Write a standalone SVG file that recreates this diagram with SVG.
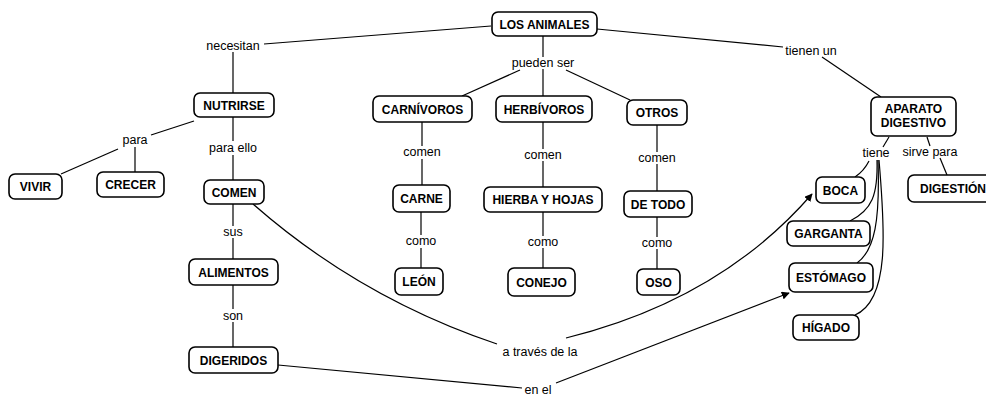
<svg xmlns="http://www.w3.org/2000/svg" width="986" height="397" viewBox="0 0 986 397">
<style>
.n rect{fill:#fff;stroke:#000;stroke-width:1.6}
.n text{font-family:"Liberation Sans",Arial,sans-serif;font-size:12px;font-weight:bold;text-anchor:middle;fill:#000}
.l{font-family:"Liberation Sans",Arial,sans-serif;font-size:12.5px;text-anchor:middle;fill:#000}
#connectors path{fill:none;stroke:#000;stroke-width:1.2}
</style>
<defs>
<marker id="ah" viewBox="0 0 10 10" refX="9" refY="5" markerWidth="8" markerHeight="8" orient="auto" markerUnits="userSpaceOnUse">
<path d="M0,0 L10,5 L0,10 Z" fill="#000"/>
</marker>
</defs>
<rect width="986" height="397" fill="#fff"/>
<g id="connectors">
<path d="M491,26 L264,44"/>
<path d="M233,52 L233,93"/>
<path d="M543,36 L543,57"/>
<path d="M520,70 L462,96"/>
<path d="M543,69 L543,96"/>
<path d="M566,70 L630,100"/>
<path d="M597,29 L783,47"/>
<path d="M822,57 L881,97"/>
<path d="M194,121 L151,135"/>
<path d="M118,149 L61,174"/>
<path d="M135,147 L135,172"/>
<path d="M233,117 L233,141"/>
<path d="M233,155 L233,180"/>
<path d="M233,204 L233,226"/>
<path d="M233,238 L233,259"/>
<path d="M233,285 L233,309"/>
<path d="M233,322 L233,347"/>
<path d="M422,122 L422,146"/>
<path d="M422,159 L422,185"/>
<path d="M421,212 L421,235"/>
<path d="M421,248 L421,268"/>
<path d="M543,122 L543,149"/>
<path d="M543,161 L543,187"/>
<path d="M543,212 L543,236"/>
<path d="M543,248 L543,268"/>
<path d="M657,125 L657,152"/>
<path d="M657,164 L657,191"/>
<path d="M657,217 L657,237"/>
<path d="M657,249 L657,269"/>
<path d="M253,204 Q360,298 497,344"/>
<path d="M566,338 Q720,300 812,194" marker-end="url(#ah)"/>
<path d="M278,365 L522,388"/>
<path d="M556,383 Q680,335 789,293" marker-end="url(#ah)"/>
<path d="M889,137 L883,147"/>
<path d="M927,137 L930,146"/>
<path d="M940,158 L947,175"/>
<path d="M869,161 Q864,171 855,177"/>
<path d="M877,160 C878,195 872,210 850,221"/>
<path d="M878,160 C880,220 875,250 857,263"/>
<path d="M879,160 C885,230 890,300 855,315"/>
</g>
<g id="lbl-necesitan"><text class="l" x="233" y="50">necesitan</text></g>
<g id="lbl-pueden"><text class="l" x="543" y="67">pueden ser</text></g>
<g id="lbl-tienen"><text class="l" x="811" y="55">tienen un</text></g>
<g id="lbl-para"><text class="l" x="135" y="144">para</text></g>
<g id="lbl-paraello"><text class="l" x="233" y="152">para ello</text></g>
<g id="lbl-comen1"><text class="l" x="422" y="156">comen</text></g>
<g id="lbl-comen2"><text class="l" x="543" y="159">comen</text></g>
<g id="lbl-comen3"><text class="l" x="657" y="162">comen</text></g>
<g id="lbl-tiene"><text class="l" x="876" y="157">tiene</text></g>
<g id="lbl-sirve"><text class="l" x="930" y="156">sirve para</text></g>
<g id="lbl-sus"><text class="l" x="233" y="236">sus</text></g>
<g id="lbl-como1"><text class="l" x="421" y="245">como</text></g>
<g id="lbl-como2"><text class="l" x="543" y="246">como</text></g>
<g id="lbl-como3"><text class="l" x="657" y="247">como</text></g>
<g id="lbl-son"><text class="l" x="233" y="320">son</text></g>
<g id="lbl-atraves"><text class="l" x="540" y="356">a través de la</text></g>
<g id="lbl-enel"><text class="l" x="538" y="394">en el</text></g>

<g id="n-animales" class="n"><rect x="492" y="12" width="105" height="24" rx="6"/><text x="544.5" y="28.5">LOS ANIMALES</text></g>
<g id="n-nutrirse" class="n"><rect x="194" y="93" width="80" height="24" rx="6"/><text x="234" y="109.5">NUTRIRSE</text></g>
<g id="n-carnivoros" class="n"><rect x="373" y="96" width="99" height="26" rx="6"/><text x="422.5" y="113.5">CARNÍVOROS</text></g>
<g id="n-herbivoros" class="n"><rect x="496" y="96" width="96" height="26" rx="6"/><text x="544" y="113.5">HERBÍVOROS</text></g>
<g id="n-otros" class="n"><rect x="627" y="100" width="60" height="25" rx="6"/><text x="657" y="117">OTROS</text></g>
<g id="n-aparato" class="n"><rect x="871" y="97" width="85" height="39" rx="6"/><text x="913.5" y="113">APARATO</text><text x="913.5" y="127">DIGESTIVO</text></g>
<g id="n-vivir" class="n"><rect x="9" y="174" width="53" height="25" rx="6"/><text x="35.5" y="191">VIVIR</text></g>
<g id="n-crecer" class="n"><rect x="97" y="172" width="67" height="25" rx="6"/><text x="130.5" y="189">CRECER</text></g>
<g id="n-comen" class="n"><rect x="204" y="180" width="60" height="24" rx="6"/><text x="234" y="196.5">COMEN</text></g>
<g id="n-carne" class="n"><rect x="393" y="185" width="57" height="27" rx="6"/><text x="421.5" y="203">CARNE</text></g>
<g id="n-hierba" class="n"><rect x="484" y="187" width="118" height="25" rx="6"/><text x="543" y="204">HIERBA Y HOJAS</text></g>
<g id="n-detodo" class="n"><rect x="624" y="191" width="68" height="26" rx="6"/><text x="658" y="208.5">DE TODO</text></g>
<g id="n-boca" class="n"><rect x="816" y="177" width="49" height="26" rx="6"/><text x="840.5" y="194.5">BOCA</text></g>
<g id="n-digestion" class="n"><rect x="908" y="175" width="90" height="27" rx="6"/><text x="953" y="193">DIGESTIÓN</text></g>
<g id="n-garganta" class="n"><rect x="787" y="221" width="83" height="25" rx="6"/><text x="828.5" y="238">GARGANTA</text></g>
<g id="n-alimentos" class="n"><rect x="189" y="259" width="89" height="26" rx="6"/><text x="233.5" y="276.5">ALIMENTOS</text></g>
<g id="n-leon" class="n"><rect x="395" y="268" width="48" height="27" rx="6"/><text x="419" y="286">LEÓN</text></g>
<g id="n-conejo" class="n"><rect x="508" y="268" width="67" height="28" rx="6"/><text x="541.5" y="286.5">CONEJO</text></g>
<g id="n-oso" class="n"><rect x="637" y="269" width="43" height="26" rx="6"/><text x="658.5" y="286.5">OSO</text></g>
<g id="n-estomago" class="n"><rect x="789" y="263" width="84" height="29" rx="6"/><text x="831" y="282">ESTÓMAGO</text></g>
<g id="n-higado" class="n"><rect x="793" y="315" width="66" height="25" rx="6"/><text x="826" y="332">HÍGADO</text></g>
<g id="n-digeridos" class="n"><rect x="189" y="347" width="89" height="26" rx="6"/><text x="233.5" y="364.5">DIGERIDOS</text></g>
</svg>
